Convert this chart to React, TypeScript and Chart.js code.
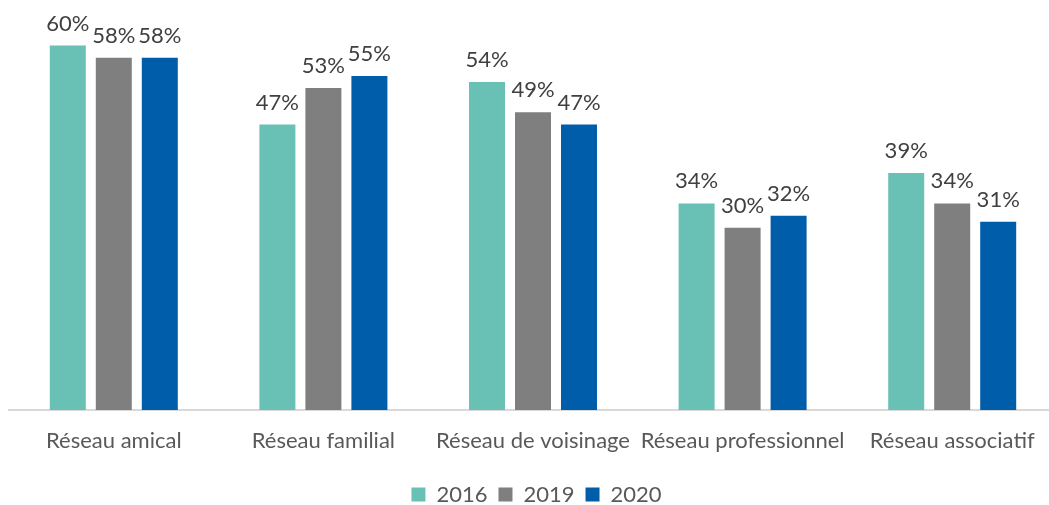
import React, { useEffect, useRef } from "react";
import { Chart, registerables } from "chart.js";

Chart.register(...registerables);

const categories = [
  "Réseau amical",
  "Réseau familial",
  "Réseau de voisinage",
  "Réseau professionnel",
  "Réseau associatif",
];
const seriesNames = ["2016", "2019", "2020"];
const values2016 = [60, 47, 54, 34, 39];
const values2019 = [58, 53, 49, 30, 34];
const values2020 = [58, 55, 47, 32, 31];
const seriesColors = ["#69C1B6", "#7F7F7F", "#005DA9"];

const FONT = "Lato, 'Open Sans', sans-serif";

const dataLabelPlugin = {
  id: "dataLabels",
  afterDatasetsDraw(chart: any) {
    const ctx = chart.ctx;
    ctx.save();
    ctx.font = `22px ${FONT}`;
    ctx.fillStyle = "#404040";
    ctx.textAlign = "center";
    ctx.textBaseline = "alphabetic";
    chart.data.datasets.forEach((ds: any, di: number) => {
      const meta = chart.getDatasetMeta(di);
      meta.data.forEach((el: any, i: number) => {
        ctx.fillText(`${ds.data[i]}%`, el.x, el.y - 15);
      });
    });
    ctx.restore();
  },
};

export default function App() {
  const ref = useRef<HTMLCanvasElement>(null);
  useEffect(() => {
    if (!ref.current) return;
    const allSeries = [values2016, values2019, values2020];
    const chart = new Chart(ref.current, {
      type: "bar",
      data: {
        labels: categories,
        datasets: seriesNames.map((name, i) => ({
          label: name,
          data: allSeries[i],
          backgroundColor: seriesColors[i],
          borderWidth: 0,
          categoryPercentage: 0.6584,
          barPercentage: 0.7826,
        })),
      },
      options: {
        responsive: false,
        animation: false,
        devicePixelRatio: 1,
        layout: { padding: { left: 9, right: 0, top: 0, bottom: 0 } },
        plugins: {
          tooltip: { enabled: false },
          legend: {
            position: "bottom",
            maxHeight: 32.5,
            labels: {
              font: { family: FONT, size: 22 },
              color: "#595959",
              boxWidth: 14,
              boxHeight: 14,
              padding: 11,
            },
          },
        },
        scales: {
          x: {
            grid: { display: false, drawTicks: false },
            border: { display: true, color: "#D9D9D9", width: 2 },
            ticks: {
              font: { family: FONT, size: 22 },
              color: "#595959",
              padding: 18,
              maxRotation: 0,
              autoSkip: false,
            },
            afterFit: (s: any) => {
              s.height = 62.5;
            },
          },
          y: {
            position: "right",
            min: 0,
            max: 67.5,
            grid: { display: false },
            border: { display: false },
            ticks: { display: false },
            afterFit: (s: any) => {
              s.width = 7;
            },
          },
        },
      },
      plugins: [dataLabelPlugin],
    });
    return () => chart.destroy();
  }, []);
  return (
    <div
      style={{
        position: "absolute",
        left: 0,
        top: 0,
        width: 1049,
        height: 505,
        overflow: "hidden",
        background: "#fff",
      }}
    >
      <canvas ref={ref} width={1064} height={505} style={{ width: 1064, height: 505, display: "block" }} />
    </div>
  );
}
